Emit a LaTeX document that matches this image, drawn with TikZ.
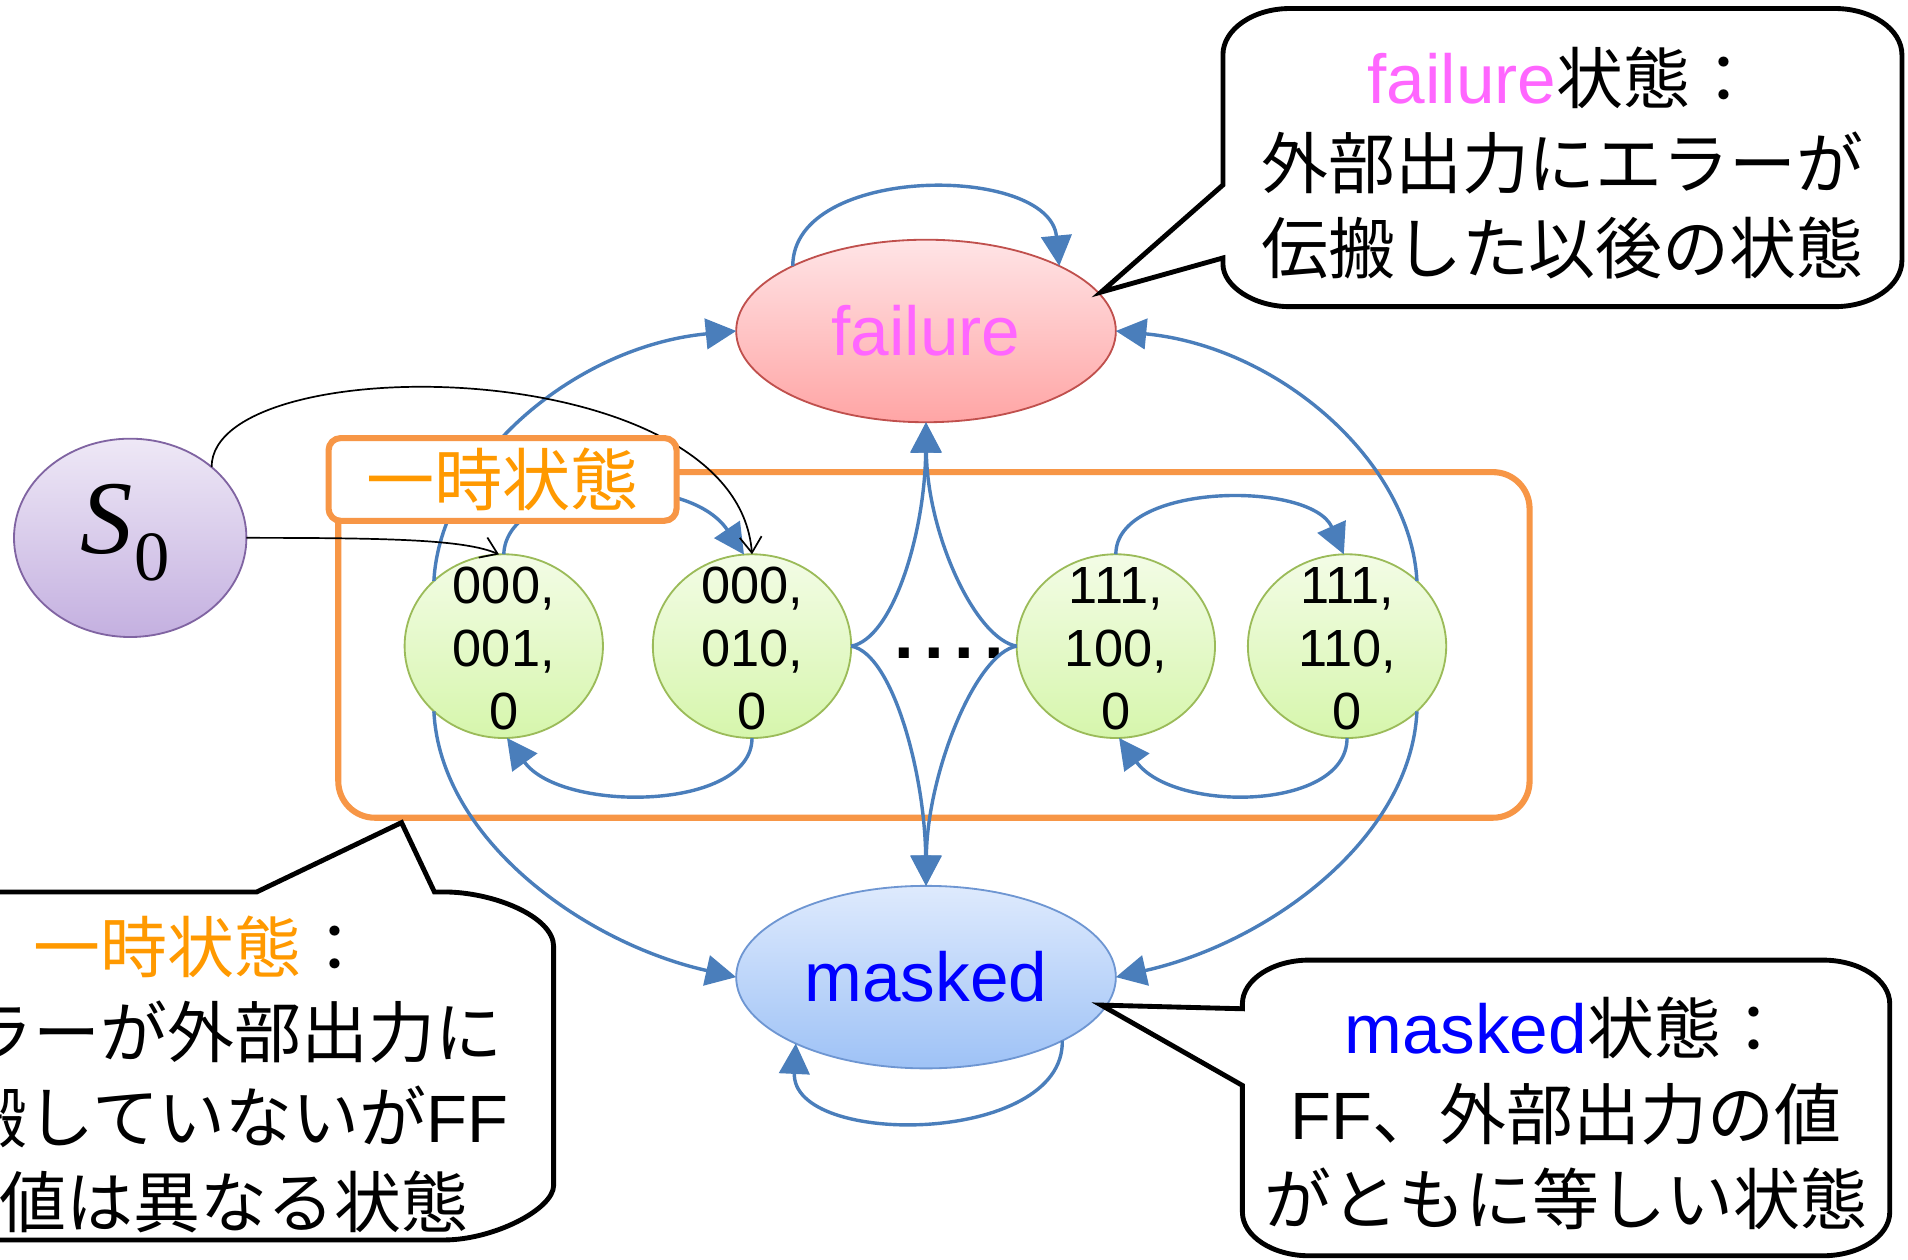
\documentclass[tikz,border=0pt]{standalone}
\usepackage{fontspec}
\setmainfont{Liberation Sans}
\newfontfamily\jp{Noto Sans CJK JP}
\newfontfamily\lsans{Liberation Sans}
\newfontfamily\lserif{Liberation Serif}
\usetikzlibrary{shapes.geometric,arrows.meta}
\definecolor{failtop}{RGB}{255,228,230}
\definecolor{failbot}{RGB}{255,165,165}
\definecolor{failline}{RGB}{192,80,77}
\definecolor{failmag}{RGB}{255,102,255}
\definecolor{masktop}{RGB}{222,234,253}
\definecolor{maskbot}{RGB}{158,194,246}
\definecolor{maskline}{RGB}{110,150,210}
\definecolor{maskblue}{RGB}{0,0,255}
\definecolor{inittop}{RGB}{238,232,246}
\definecolor{initbot}{RGB}{196,176,224}
\definecolor{initline}{RGB}{128,100,162}
\definecolor{tmptop}{RGB}{243,252,230}
\definecolor{tmpbot}{RGB}{214,246,172}
\definecolor{tmpline}{RGB}{155,187,89}
\definecolor{tmporange}{RGB}{247,150,70}
\definecolor{tmptextcol}{RGB}{255,153,0}
\definecolor{connblue}{RGB}{74,126,187}
\begin{document}
\begin{tikzpicture}[x=1pt,y=-1pt,
  state/.style={ellipse, draw, line width=1.5pt, inner sep=0pt, outer sep=0pt},
  failst/.style={state, minimum width=312pt, minimum height=150pt, draw=failline, top color=failtop, bottom color=failbot},
  maskst/.style={state, minimum width=312pt, minimum height=150pt, draw=maskline, top color=masktop, bottom color=maskbot},
  initst/.style={state, minimum width=191pt, minimum height=163pt, draw=initline, top color=inittop, bottom color=initbot},
  tmpst/.style={state, minimum width=163pt, minimum height=151pt, draw=tmpline, top color=tmptop, bottom color=tmpbot},
  tmptext/.style={align=center, inner sep=0pt, font=\lsans\fontsize{43}{52}\selectfont},
  conn/.style={draw=connblue, line width=2.8pt, -{Triangle[length=25pt,width=25pt]}},
  initarrow/.style={draw=black, line width=1.4pt, -{Straight Barb[length=13pt,width=18pt]}},
  calloutshape/.style={draw=black, line width=4pt, fill=white, line join=miter},
  callouttext/.style={align=center, inner sep=0pt, font=\jp\fontsize{55}{70}\selectfont},
]
\clip (0,0) rectangle (1568,1035);
\fill[white] (0,0) rectangle (1568,1035);

% region of transient states
\node[draw=tmporange, line width=5pt, rounded corners=30pt, minimum width=979pt, minimum height=284pt, inner sep=0pt] (tmpregion) at (767.5,530) {};

% states
\node[failst, font=\lsans\fontsize{57}{57}\selectfont, text=failmag] (fail) at (761,272) {failure};
\node[maskst, font=\lsans\fontsize{57}{57}\selectfont, text=maskblue] (mask) at (761,803) {masked};
\node[initst] (s0) at (107,442) {};
\node[anchor=base west, inner sep=0pt] (s0lab) at (66,455) {\lserif\fontsize{86}{86}\selectfont\itshape S\kern1pt\raisebox{-22pt}{\upshape\fontsize{58}{58}\selectfont 0}};

\node[tmpst] (g1) at (414,531) {};
\node[tmpst] (g2) at (618,531) {};
\node[tmpst] (g3) at (917,531) {};
\node[tmpst] (g4) at (1107,531) {};
\node[tmptext] (g1t) at (414,533) {000,\\001,\\0};
\node[tmptext] (g2t) at (618,533) {000,\\010,\\0};
\node[tmptext] (g3t) at (917,533) {111,\\100,\\0};
\node[tmptext] (g4t) at (1107,533) {111,\\110,\\0};

\node[inner sep=0pt, font=\lsans\bfseries\fontsize{58}{58}\selectfont] (dots) at (780,537) {.\kern8.5pt.\kern8.5pt.\kern8.5pt.};

% transitions
\draw[conn] (fail.154) .. controls +(0,-84) and +(-8,-84) .. (fail.26);
\draw[conn] (mask.-25) .. controls +(2,86) and +(-4,86) .. (mask.-153);
\draw[conn] (g1.137) .. controls +(5,-97) and +(-135,13) .. (fail.180);
\draw[conn] (g1.223) .. controls +(5,105) and +(-125,-28) .. (mask.180);
\draw[conn] (g4.43) .. controls +(-5,-97) and +(135,13) .. (fail.0);
\draw[conn] (g4.-43) .. controls +(-5,105) and +(125,-28) .. (mask.0);
\draw[conn] (g1.90) .. controls +(2,-60) and +(-48,-71) .. (g2.95);
\draw[conn] (g2.270) .. controls +(0,60) and +(45,62) .. (g1.272);
\draw[conn] (g3.90) .. controls +(0,-59) and +(-27,-61) .. (g4.92);
\draw[conn] (g4.270) .. controls +(0,60) and +(45,62) .. (g3.272);
\draw[conn] (g2.east) .. controls +(34,-6) and +(-1,92) .. (fail.south);
\draw[conn] (g2.east) .. controls +(34,6) and +(-1,-92) .. (mask.north);
\draw[conn] (g3.west) .. controls +(-34,-6) and +(1,92) .. (fail.south);
\draw[conn] (g3.west) .. controls +(-34,6) and +(1,-92) .. (mask.north);

\draw[initarrow] (s0.41) .. controls +(0,-98) and +(-13,-168) .. (g2.90);
\draw[initarrow] (s0.east) .. controls +(120,0) and +(-28,-12) .. (g1.93);

% label of region
\node[draw=tmporange, line width=5pt, fill=white, rounded corners=10pt, minimum width=286pt, minimum height=68pt, inner sep=0pt, text=tmptextcol, font=\jp\fontsize{56}{56}\selectfont] (tmplabel) at (413,394) {一時状態};

% callouts
\draw[calloutshape] (905,240) -- (1005,152) -- (1005,45) .. controls (1005,24) and (1030,7) .. (1060,7) -- (1508,7) .. controls (1538,7) and (1563,24) .. (1563,45) -- (1563,214) .. controls (1563,235) and (1538,252) .. (1508,252) -- (1060,252) .. controls (1030,252) and (1005,235) .. (1005,217) -- (1005,212) -- cycle;
\node[callouttext] (failnote) at (1284,134) {{\lsans\fontsize{57}{70}\selectfont\color{failmag}failure}状態：\\外部出力にエラーが\\伝搬した以後の状態};

\draw[calloutshape] (905,826) -- (1021,829) -- (1021,825) .. controls (1021,805) and (1046,789) .. (1076,789) -- (1498,789) .. controls (1528,789) and (1553,805) .. (1553,825) -- (1553,996) .. controls (1553,1016) and (1528,1032) .. (1498,1032) -- (1076,1032) .. controls (1046,1032) and (1021,1016) .. (1021,996) -- (1021,892) -- cycle;
\node[callouttext] (masknote) at (1287,915) {{\lsans\fontsize{57}{70}\selectfont\color{maskblue}masked}状態：\\{\lsans FF}、外部出力の値\\がともに等しい状態};

\draw[calloutshape] (330,676) -- (357,733) -- (365,733) .. controls (405,733) and (455,753) .. (455,778) -- (455,974) .. controls (455,994) and (405,1019) .. (365,1019) -- (-41,1019) .. controls (-81,1019) and (-131,994) .. (-131,974) -- (-131,778) .. controls (-131,753) and (-81,733) .. (-41,733) -- (211,733) -- cycle;
\node[callouttext] (tmpnote) at (165,883) {{\color{tmptextcol}一時状態}：\\エラーが外部出力に\\伝搬していないが{\lsans FF}\\の値は異なる状態};
\end{tikzpicture}
\end{document}
